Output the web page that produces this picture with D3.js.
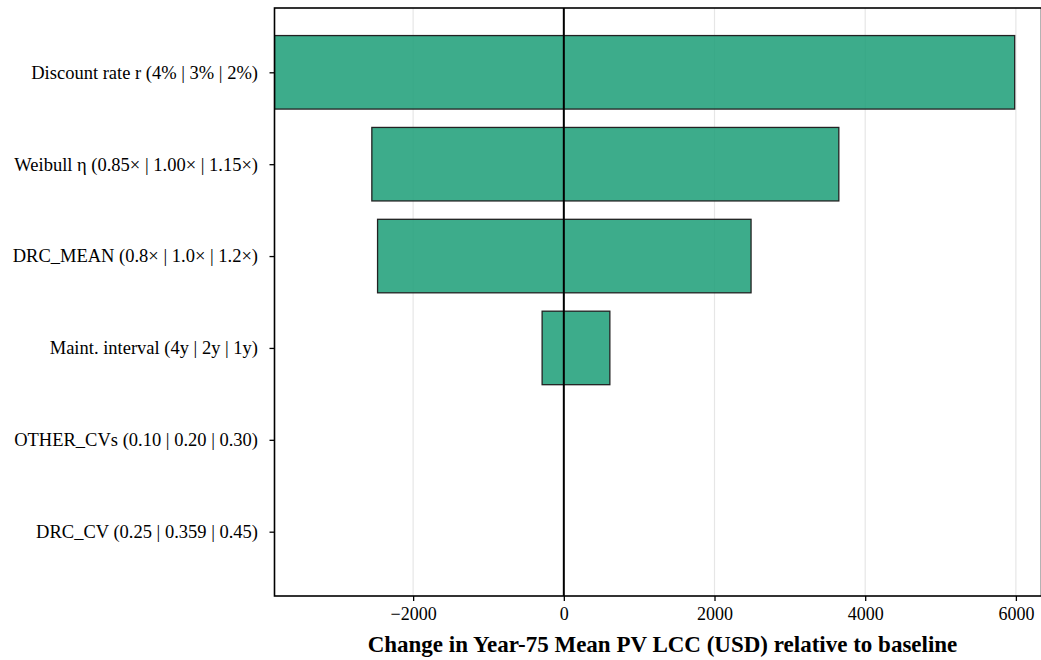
<!DOCTYPE html>
<html>
<head>
<meta charset="utf-8">
<script src="https://cdn.jsdelivr.net/npm/d3@7"></script>
<style>
  html, body { margin: 0; padding: 0; background: #fff; }
  svg { display: block; }
  text { font-family: "Liberation Serif", "Times New Roman", serif; }
</style>
</head>
<body>
<svg id="chart" width="1041" height="660"></svg>
<script>
// Tornado chart: change in year-75 mean PV life-cycle cost for each input swing
const parameters = [
  "Discount rate r (4% | 3% | 2%)",
  "Weibull \u03b7 (0.85\u00d7 | 1.00\u00d7 | 1.15\u00d7)",
  "DRC_MEAN (0.8\u00d7 | 1.0\u00d7 | 1.2\u00d7)",
  "Maint. interval (4y | 2y | 1y)",
  "OTHER_CVs (0.10 | 0.20 | 0.30)",
  "DRC_CV (0.25 | 0.359 | 0.45)"
];
const lowDelta  = [-3840, -2548, -2472, -288, 0, 0];
const highDelta = [5984, 3650, 2485, 611, 0, 0];
const xTicks = [-2000, 0, 2000, 4000, 6000];
const xLabel = "Change in Year-75 Mean PV LCC (USD) relative to baseline";

const rows = parameters.map((p, i) => ({ name: p, idx: i, lo: lowDelta[i], hi: highDelta[i] }));

const svg = d3.select("#chart");
const plotLeft = 274.5, plotRight = 1041.5, plotTop = 8, plotBottom = 596;

const x = d3.scaleLinear().domain([-3840, 6340]).range([plotLeft, plotRight]);
// Category positions follow a numeric axis from -0.7 to 5.7 with bar height 0.8
const yPos = d3.scaleLinear().domain([-0.7, parameters.length - 0.3]).range([plotTop, plotBottom]);
const barH = yPos(0.8) - yPos(0);

// vertical grid lines
svg.append("g")
  .selectAll("line")
  .data(xTicks)
  .join("line")
  .attr("x1", d => x(d)).attr("x2", d => x(d))
  .attr("y1", plotTop).attr("y2", plotBottom)
  .attr("stroke", "#e6e6e6")
  .attr("stroke-width", 1.2);

// bars, clipped to the plotting area
const clipId = "plot-clip";
svg.append("clipPath").attr("id", clipId)
  .append("rect").attr("x", plotLeft).attr("y", plotTop)
  .attr("width", plotRight - plotLeft).attr("height", plotBottom - plotTop);

svg.append("g")
  .attr("clip-path", `url(#${clipId})`)
  .selectAll("rect")
  .data(rows.filter(r => r.hi !== r.lo))
  .join("rect")
  .attr("x", d => x(d.lo))
  .attr("width", d => x(d.hi) - x(d.lo))
  .attr("y", d => yPos(d.idx) - barH / 2)
  .attr("height", barH)
  .attr("fill", "#1b9e77")
  .attr("fill-opacity", 0.85)
  .attr("stroke", "#222")
  .attr("stroke-width", 1.3);

// baseline at zero
svg.append("line")
  .attr("x1", x(0)).attr("x2", x(0))
  .attr("y1", plotTop).attr("y2", plotBottom)
  .attr("stroke", "#000")
  .attr("stroke-width", 2);

// frame
svg.append("rect")
  .attr("x", plotLeft).attr("y", plotTop)
  .attr("width", plotRight - plotLeft).attr("height", plotBottom - plotTop)
  .attr("fill", "none")
  .attr("stroke", "#000")
  .attr("stroke-width", 1.6);

// x axis
const xAxis = svg.append("g")
  .attr("transform", `translate(0,${plotBottom})`)
  .call(d3.axisBottom(x).tickValues(xTicks).tickSize(5).tickPadding(6)
    .tickFormat(d => d < 0 ? "\u2212" + Math.abs(d) : String(d)));
xAxis.select(".domain").remove();
xAxis.selectAll(".tick line").attr("stroke", "#000").attr("stroke-width", 1.3);
xAxis.selectAll(".tick text")
  .attr("fill", "#000")
  .style("font-family", "'Liberation Serif', serif")
  .style("font-size", "18px");

// y axis
const yAxis = svg.append("g")
  .attr("transform", `translate(${plotLeft},0)`)
  .call(d3.axisLeft(yPos).tickValues(d3.range(parameters.length))
    .tickSize(5).tickPadding(11.5).tickFormat(i => parameters[i]));
yAxis.select(".domain").remove();
yAxis.selectAll(".tick line").attr("stroke", "#000").attr("stroke-width", 1.3);
yAxis.selectAll(".tick text")
  .attr("fill", "#000")
  .style("font-family", "'Liberation Serif', serif")
  .style("font-size", "18.5px");

// axis title
svg.append("text")
  .attr("x", 662.5)
  .attr("y", 652)
  .attr("text-anchor", "middle")
  .style("font-family", "'Liberation Serif', serif")
  .style("font-weight", "bold")
  .style("font-size", "23px")
  .text(xLabel);
</script>
</body>
</html>
